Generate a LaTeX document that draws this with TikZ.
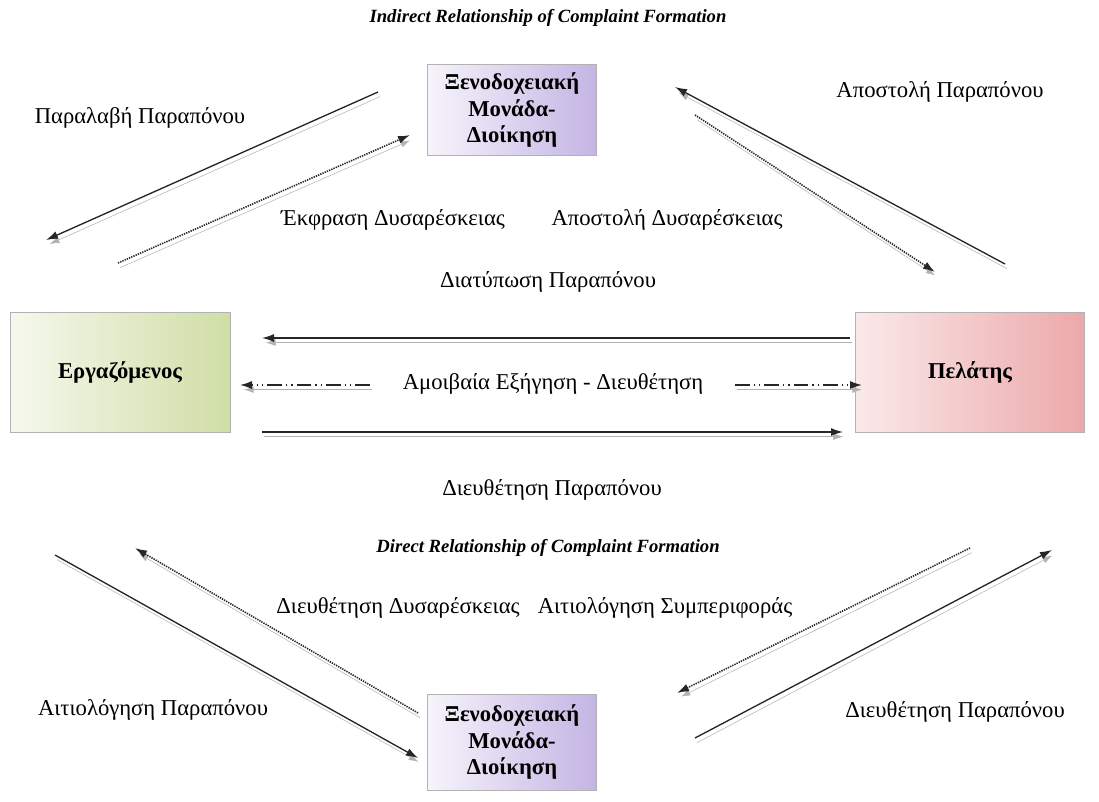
\documentclass[tikz,border=0pt]{standalone}
\usepackage{fontspec}
\setmainfont{Liberation Serif}
\usetikzlibrary{arrows.meta}
\definecolor{hotelc}{RGB}{196,180,228}
\definecolor{staffc}{RGB}{208,222,165}
\definecolor{guestc}{RGB}{236,168,170}

\begin{document}
\begin{tikzpicture}[x=0.75pt,y=-0.75pt,
  actor/.style={draw=gray!60,rectangle,align=center,font=\fontsize{17}{20}\selectfont\bfseries},
  lbl/.style={font=\fontsize{17}{20}\selectfont},
  heading/.style={font=\fontsize{14}{17}\selectfont\bfseries\itshape},
  shade/.style={preaction={draw=gray!60,-{Latex[length=9pt,width=6pt]},transform canvas={shift={(1.5pt,-3.5pt)}}}},
  flow/.style={shade,draw=black!85,line width=1pt,-{Latex[length=9pt,width=6pt]}},
  hint/.style={flow,dash pattern=on 1pt off 0.8pt,line width=1.2pt},
  talk/.style={flow,line width=1.1pt,dash pattern=on 11pt off 3pt on 1pt off 3pt on 1pt off 3pt}]
\useasboundingbox (0,0) rectangle (1099,802);

\node[actor,left color=hotelc!15,right color=hotelc,minimum width=127pt,minimum height=68pt] (hotel) at (512,110) {Ξενοδοχειακή\\Μονάδα-\\Διοίκηση};
\node[actor,left color=staffc!20,right color=staffc,minimum width=165pt,minimum height=90pt] (staff) at (120,372) {Εργαζόμενος};
\node[actor,left color=guestc!25,right color=guestc,minimum width=172pt,minimum height=90pt] (guest) at (970,372) {Πελάτης};
\node[actor,left color=hotelc!15,right color=hotelc,minimum width=127pt,minimum height=72pt] (hotel2) at (512,742) {Ξενοδοχειακή\\Μονάδα-\\Διοίκηση};

% indirect relationship
\node[heading] (indirect) at (548,18) {Indirect Relationship of Complaint Formation};
\coordinate (a1) at (378,92);  \coordinate (a2) at (46,240);
\coordinate (b1) at (118,263); \coordinate (b2) at (410,135);
\coordinate (c1) at (1005,264);\coordinate (c2) at (675,87);
\coordinate (d1) at (695,115); \coordinate (d2) at (935,272);
\draw[flow] (a1) -- (a2);
\draw[hint] (b1) -- (b2);
\draw[flow] (c1) -- (c2);
\draw[hint] (d1) -- (d2);
\node[lbl] (receive) at (140,118) {Παραλαβή Παραπόνου};
\node[lbl] (send) at (940,92) {Αποστολή Παραπόνου};
\node[lbl] (express) at (393,220) {Έκφραση Δυσαρέσκειας};
\node[lbl] (senddis) at (667,220) {Αποστολή Δυσαρέσκειας};

% middle
\node[lbl] (state) at (548,282) {Διατύπωση Παραπόνου};
\coordinate (m1) at (850,338); \coordinate (m2) at (262,338);
\coordinate (n1) at (370,385); \coordinate (n2) at (240,385);
\coordinate (o1) at (735,385); \coordinate (o2) at (862,385);
\coordinate (p1) at (262,432); \coordinate (p2) at (843,432);
\draw[flow] (m1) -- (m2);
\draw[talk] (n1) -- (n2);
\draw[talk] (o1) -- (o2);
\draw[flow] (p1) -- (p2);
\node[lbl] (mutual) at (553,384) {Αμοιβαία Εξήγηση - Διευθέτηση};
\node[lbl] (settle) at (552,490) {Διευθέτηση Παραπόνου};

% direct relationship
\node[heading] (direct) at (548,548) {Direct Relationship of Complaint Formation};
\coordinate (e1) at (55,555);  \coordinate (e2) at (418,758);
\coordinate (f1) at (418,713); \coordinate (f2) at (135,548);
\coordinate (g1) at (970,548); \coordinate (g2) at (677,693);
\coordinate (h1) at (695,738); \coordinate (h2) at (1052,550);
\draw[flow] (e1) -- (e2);
\draw[hint] (f1) -- (f2);
\draw[hint] (g1) -- (g2);
\draw[flow] (h1) -- (h2);
\node[lbl] (settledis) at (398,608) {Διευθέτηση Δυσαρέσκειας};
\node[lbl] (justbeh) at (665,608) {Αιτιολόγηση Συμπεριφοράς};
\node[lbl] (justcomp) at (153,710) {Αιτιολόγηση Παραπόνου};
\node[lbl] (settle2) at (955,712) {Διευθέτηση Παραπόνου};
\end{tikzpicture}
\end{document}
